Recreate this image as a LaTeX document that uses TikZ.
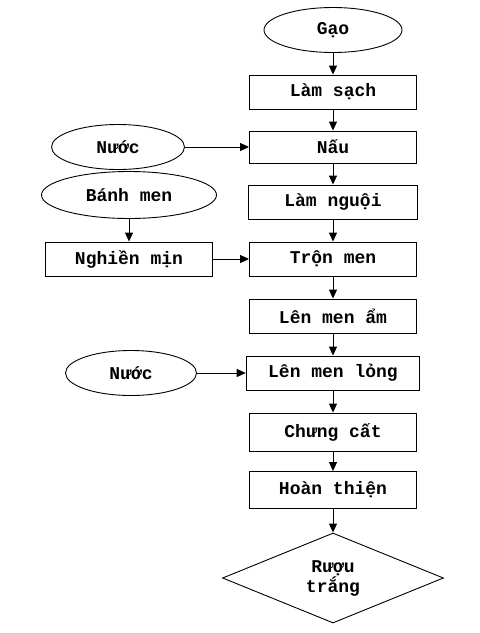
\documentclass[tikz,border=0pt]{standalone}
\usepackage{fontspec}
\setmonofont{Liberation Mono}
\usetikzlibrary{shapes,arrows.meta}
\usetikzlibrary{positioning}
\tikzset{every node/.style={font=\ttfamily\bfseries\fontsize{18}{20}\selectfont},
stepbox/.style={draw, rectangle, minimum width=167pt, minimum height=34pt, inner xsep=22pt},
input/.style={draw, ellipse, minimum width=133pt, minimum height=45pt},
product/.style={draw, diamond, minimum width=221pt, minimum height=90pt, inner sep=0pt, align=center}
}

\begin{document}
\begin{tikzpicture}[x=1pt, y=-1pt, node distance=57pt, on grid, line width=0.9pt,
        >={Triangle[length=9pt,width=8pt]}]
        \useasboundingbox (0,0) rectangle (480,633);
        \node[input, minimum width=138pt] (gao)        at (333,30)             {Gạo};
        \node[stepbox]                    (lamsach)    [below=62pt of gao]      {Làm sạch};
        \node[stepbox, minimum height=32pt] (nau)      [below=55pt of lamsach]  {Nấu};
        \node[stepbox, minimum width=169pt] (lamnguoi) [below=55pt of nau]      {Làm nguội};
        \node[stepbox]                    (tronmen)    [below=of lamnguoi]      {Trộn men};
        \node[stepbox]                    (lenmenam)   [below=of tronmen]       {Lên men ẩm};
        \node[stepbox]                    (lenmenlong) [below=of lenmenam]      {Lên men lỏng};
        \node[stepbox, minimum height=38pt] (chungcat) [below=59pt of lenmenlong] {Chưng cất};
        \node[stepbox, minimum height=37pt] (hoanthien) [below=58pt of chungcat] {Hoàn thiện};
        \node[product]                    (ruou)       [below=88pt of hoanthien] {Rượu\\trắng};

        \node[input]                      (nuoc)       [left=215pt of nau]      {Nước};
        \node[stepbox]                    (nghien)     [left=204pt of tronmen]  {Nghiền mịn};
        \node[input, minimum width=175pt, minimum height=47pt] (banhmen) [above=64pt of nghien] {Bánh men};
        \node[input, minimum width=131pt] (nuoclong)   [left=202pt of lenmenlong] {Nước};

        \path[->] (gao)        edge (lamsach)
                  (lamsach)    edge (nau)
                  (nau)        edge (lamnguoi)
                  (lamnguoi)   edge (tronmen)
                  (tronmen)    edge (lenmenam)
                  (lenmenam)   edge (lenmenlong)
                  (lenmenlong) edge (chungcat)
                  (chungcat)   edge (hoanthien)
                  (hoanthien)  edge (ruou)
                  (nuoc)       edge (nau)
                  (banhmen)    edge (nghien)
                  (nghien)     edge (tronmen)
                  (nuoclong)   edge (lenmenlong);
\end{tikzpicture}
\end{document}
